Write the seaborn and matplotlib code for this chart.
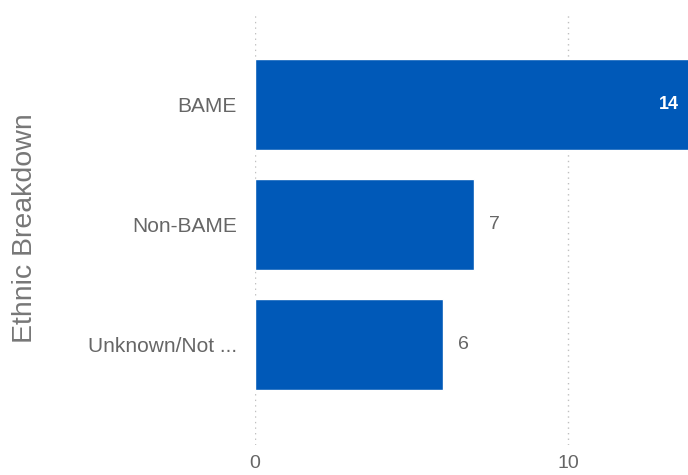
import matplotlib
matplotlib.use("Agg")
import matplotlib.pyplot as plt
import seaborn as sns
import pandas as pd

# chart data
categories = ["BAME", "Non-BAME", "Unknown/Not ..."]
counts = [14, 7, 6]

df = pd.DataFrame({"Group": categories, "Count": counts})

sns.set_style("white")
plt.rcParams["font.family"] = ["Liberation Sans", "DejaVu Sans"]

fig = plt.figure(figsize=(6.88, 4.75), dpi=100)
ax = fig.add_axes([0.3706, 0.0632, 0.6294, 0.9115])

sns.barplot(data=df, x="Count", y="Group", color="#0059B8", saturation=1,
            width=0.76, ax=ax)

ax.set_xlim(0, 13.83)
ax.set_ylim(2.84, -0.77)
ax.set_xticks([0, 10])
ax.xaxis.grid(True, linestyle=(0, (1, 3)), color="#c0c0c0", linewidth=1)
ax.set_axisbelow(True)
for s in ax.spines.values():
    s.set_visible(False)

ax.tick_params(axis="y", length=0, labelsize=15, labelcolor="#666666", pad=13)
ax.tick_params(axis="x", length=0, labelsize=14, labelcolor="#666666", pad=7)
ax.set_xlabel("")
ax.set_ylabel("Ethnic Breakdown", fontsize=20.5, color="#777777")
ax.yaxis.set_label_coords(-0.50, 0.5)

# data labels
for i, v in enumerate(counts):
    if v > 10:
        ax.text(v - 0.45, i, str(v), ha="right", va="center", color="white",
                fontsize=13, fontweight="bold")
    else:
        ax.text(v + 0.48, i, str(v), ha="left", va="center", color="#666666",
                fontsize=14)

fig.savefig("out.png", dpi=100)
